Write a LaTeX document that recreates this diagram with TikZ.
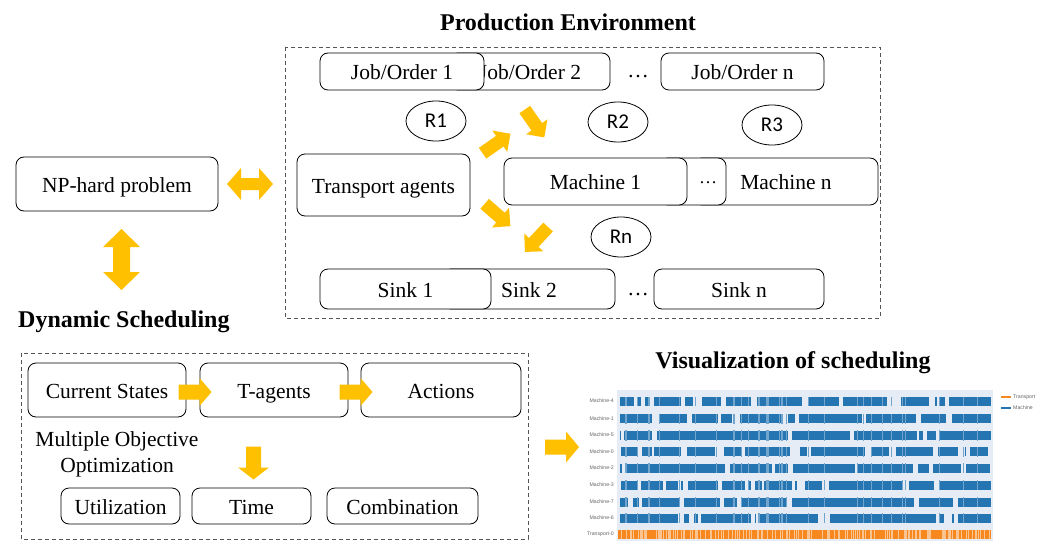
\documentclass[tikz,border=0pt]{standalone}
\usepackage{fontspec}
\setmainfont{Liberation Serif}
\newfontfamily\calib{Carlito}
\newfontfamily\lsans{Liberation Sans}
\usetikzlibrary{shapes.geometric}
\definecolor{gold}{HTML}{FFC000}
\definecolor{mblue}{HTML}{2475B2}
\definecolor{torange}{HTML}{F7871F}
\definecolor{plotbg}{HTML}{E5ECF6}
\definecolor{dashgray}{HTML}{555555}
\definecolor{labgray}{HTML}{666666}
% cx cy angle L H S HL
\newcommand\fatarrow[7]{\fill[gold,shift={(#1,#2)},rotate=#3] (-#4/2,-#6/2) -- (#4/2-#7,-#6/2) -- (#4/2-#7,-#5/2) -- (#4/2,0) -- (#4/2-#7,#5/2) -- (#4/2-#7,#6/2) -- (-#4/2,#6/2) -- cycle;}
\newcommand\dblarrow[7]{\fill[gold,shift={(#1,#2)},rotate=#3] (-#4/2,0) -- (-#4/2+#7,-#5/2) -- (-#4/2+#7,-#6/2) -- (#4/2-#7,-#6/2) -- (#4/2-#7,-#5/2) -- (#4/2,0) -- (#4/2-#7,#5/2) -- (#4/2-#7,#6/2) -- (-#4/2+#7,#6/2) -- (-#4/2+#7,#5/2) -- cycle;}
\newcommand\rbox[7][]{\node[box,#1,minimum width={#4-#2},minimum height={#5-#3}] (#6) at ({(#2+#4)/2},{(#3+#5)/2}) {#7};}
\newcommand\brow[2]{\foreach \a/\b in {#2} {\fill[mblue] (\a,#1-4.5) rectangle (\b,#1+4.5);}}
\begin{document}
\begin{tikzpicture}[x=1pt,y=-1pt,
  box/.style={draw, rounded corners=8pt, fill=white, inner sep=0pt, line width=0.8pt, text height=16pt, text depth=0pt, font=\fontsize{21.5}{24}\selectfont},
  rnode/.style={draw, ellipse, line width=0.8pt, minimum width=60pt, minimum height=40pt, inner sep=0pt, text height=13.5pt, text depth=0pt, font=\calib\fontsize{21}{22}\selectfont},
  dbox/.style={draw=dashgray, dash pattern=on 4pt off 3pt, line width=0.8pt},
  ttl/.style={font=\bfseries\fontsize{24}{26}\selectfont, inner sep=0pt},
  plain/.style={font=\fontsize{21.5}{26}\selectfont, inner sep=0pt},
  clab/.style={font=\lsans\fontsize{5.2}{6}\selectfont, text=labgray, inner sep=0pt}]
\useasboundingbox (0,0) rectangle (1043,543);
\fill[white] (0,0) rectangle (1043,543);

% ---------- Production environment ----------
\node[ttl] (ptitle) at (568,22) {Production Environment};
\draw[dbox] (285,47) rectangle (880,318);

\rbox{450}{53}{610}{90}{job2}{Job/Order 2}
\rbox{320}{53}{484}{90}{job1}{Job/Order 1}
\node[plain] (jdots) at (638,77) {\ldots};
\rbox{661}{53}{824}{90}{jobn}{Job/Order n}

\node[rnode] (r1) at (436,121) {R1};
\node[rnode] (r2) at (618,122) {R2};
\node[rnode] (r3) at (772,125) {R3};
\node[rnode] (rn) at (621,237) {Rn};

\rbox{297}{154}{470}{216}{trans}{Transport agents}
\rbox{694}{158}{878}{205}{machn}{Machine n}
\rbox{660}{158}{726}{205}{mdotsbox}{}
\node[font=\fontsize{18}{20}\selectfont, inner sep=0pt] (mdots) at (708,183) {\ldots};
\rbox{504}{158}{687}{205}{mach1}{Machine 1}

\rbox{443}{269}{615}{309}{sink2}{Sink 2}
\rbox{320}{269}{491}{309}{sink1}{Sink 1}
\node[plain] (sdots) at (638,295) {\ldots};
\rbox{654}{269}{824}{309}{sinkn}{Sink n}

\fatarrow{496.5}{143.5}{35}{34}{26}{13}{13}
\fatarrow{534.5}{123.5}{-55}{34}{26}{13}{13}
\fatarrow{497.5}{215}{-41}{34}{26}{13}{13}
\fatarrow{536.5}{239.5}{-133}{34}{26}{13}{13}

% ---------- NP-hard ----------
\rbox{16}{157}{218}{211}{np}{NP-hard problem}
\dblarrow{250}{184}{0}{46}{32}{12}{14}
\dblarrow{121.5}{259.5}{90}{61}{37}{17}{18}

% ---------- Dynamic scheduling ----------
\node[ttl, anchor=west] (dtitle) at (18,322) {Dynamic Scheduling};
\draw[dbox] (21,353) rectangle (528,539);
\rbox{28}{363}{186}{417}{cs}{Current States}
\rbox{200}{363}{348}{417}{ta}{T-agents}
\rbox{361}{363}{521}{417}{act}{Actions}
\fatarrow{195}{392}{0}{33}{28}{15}{12}
\fatarrow{356}{392}{0}{33}{28}{15}{12}
\node[plain, align=center] (moo) at (117,454) {Multiple Objective\\Optimization};
\fatarrow{253.5}{463}{-90}{33}{31}{15}{12}
\rbox{61}{488}{180}{524}{util}{Utilization}
\rbox{192}{488}{311}{524}{time}{Time}
\rbox{327}{488}{478}{524}{comb}{Combination}

% ---------- Visualization ----------
\node[ttl] (vtitle) at (793,363) {Visualization of scheduling};
\fatarrow{562}{447}{0}{34}{31}{15}{13}
\fill[plotbg] (617,390) rectangle (993,541);
\node[clab, anchor=east] (l4) at (614,401) {Machine-4};
\node[clab, anchor=east] (l1) at (614,418.5) {Machine-1};
\node[clab, anchor=east] (l5) at (614,435) {Machine-5};
\node[clab, anchor=east] (l0) at (614,451.5) {Machine-0};
\node[clab, anchor=east] (l2) at (614,468) {Machine-2};
\node[clab, anchor=east] (l3) at (614,485) {Machine-3};
\node[clab, anchor=east] (l7) at (614,502) {Machine-7};
\node[clab, anchor=east] (l6) at (614,518) {Machine-6};
\node[clab, anchor=east] (lt) at (614,534) {Transport-0};
\draw[torange, line width=1.6pt] (1001,397) -- (1011,397);
\node[clab, anchor=west] (legt) at (1013,397) {Transport};
\draw[mblue, line width=1.6pt] (1001,408) -- (1011,408);
\node[clab, anchor=west] (legm) at (1013,408) {Machine};
\begin{scope}[shift={(540,0)}, x=0.3356pt]
\brow{401}{237/280,293/300,313/326,340/420,432/457,483/540,553/628,648/782,800/890,903/1035,1077/1160,1178/1184,1192/1208,1220/1345}
\brow{418.5}{237/335,355/437,453/530,540/572,597/720,740/760,772/960,970/1120,1135/1210,1228/1345}
\brow{435}{237/242,250/335,350/740,750/925,935/1122,1130/1140,1152/1180,1192/1345}
\brow{451.5}{240/290,305/335,340/420,438/520,548/600,612/745,775/795,808/968,985/1040,1060/1170,1185/1245,1265/1270,1280/1335}
\brow{468}{237/245,255/550,565/690,700/740,755/938,945/1110,1125/1160,1170/1255,1268/1340}
\brow{485}{240/290,300/365,375/410,420/425,440/530,543/610,620/630,640/660,668/750,760/765,790/840,860/1080,1098/1175,1188/1345}
\brow{502}{237/262,278/296,305/415,428/535,548/588,598/735,750/1115,1128/1230,1245/1345}
\brow{518}{237/410,428/445,458/470,480/630,640/645,655/828,865/1180,1190/1205,1228/1235,1245/1345}
\fill[torange] (233,529.5) rectangle (1345,538.5);
\pgfmathsetseed{7}
\foreach \i in {1,...,150} {
  \pgfmathsetmacro\xx{236+rnd*1106}
  \draw[torange!50!white, line width=0.35pt] (\xx,529.5) -- (\xx,538.5);
}
\foreach \i in {1,...,35} {
  \pgfmathsetmacro\xx{236+rnd*1106}
  \draw[mblue!65!white, line width=0.3pt] (\xx,396.5) -- (\xx,522.5);
}
\end{scope}
\fill[plotbg] (617,424) rectangle (993,429.5);
\fill[plotbg] (617,406) rectangle (993,413.5);
\fill[plotbg] (617,440.5) rectangle (993,446.5);
\fill[plotbg] (617,456.5) rectangle (993,463);
\fill[plotbg] (617,473) rectangle (993,480);
\fill[plotbg] (617,490) rectangle (993,497);
\fill[plotbg] (617,507) rectangle (993,513);
\fill[plotbg] (617,523) rectangle (993,529);
\fill[plotbg] (617,390) rectangle (993,396.5);
\end{tikzpicture}
\end{document}
